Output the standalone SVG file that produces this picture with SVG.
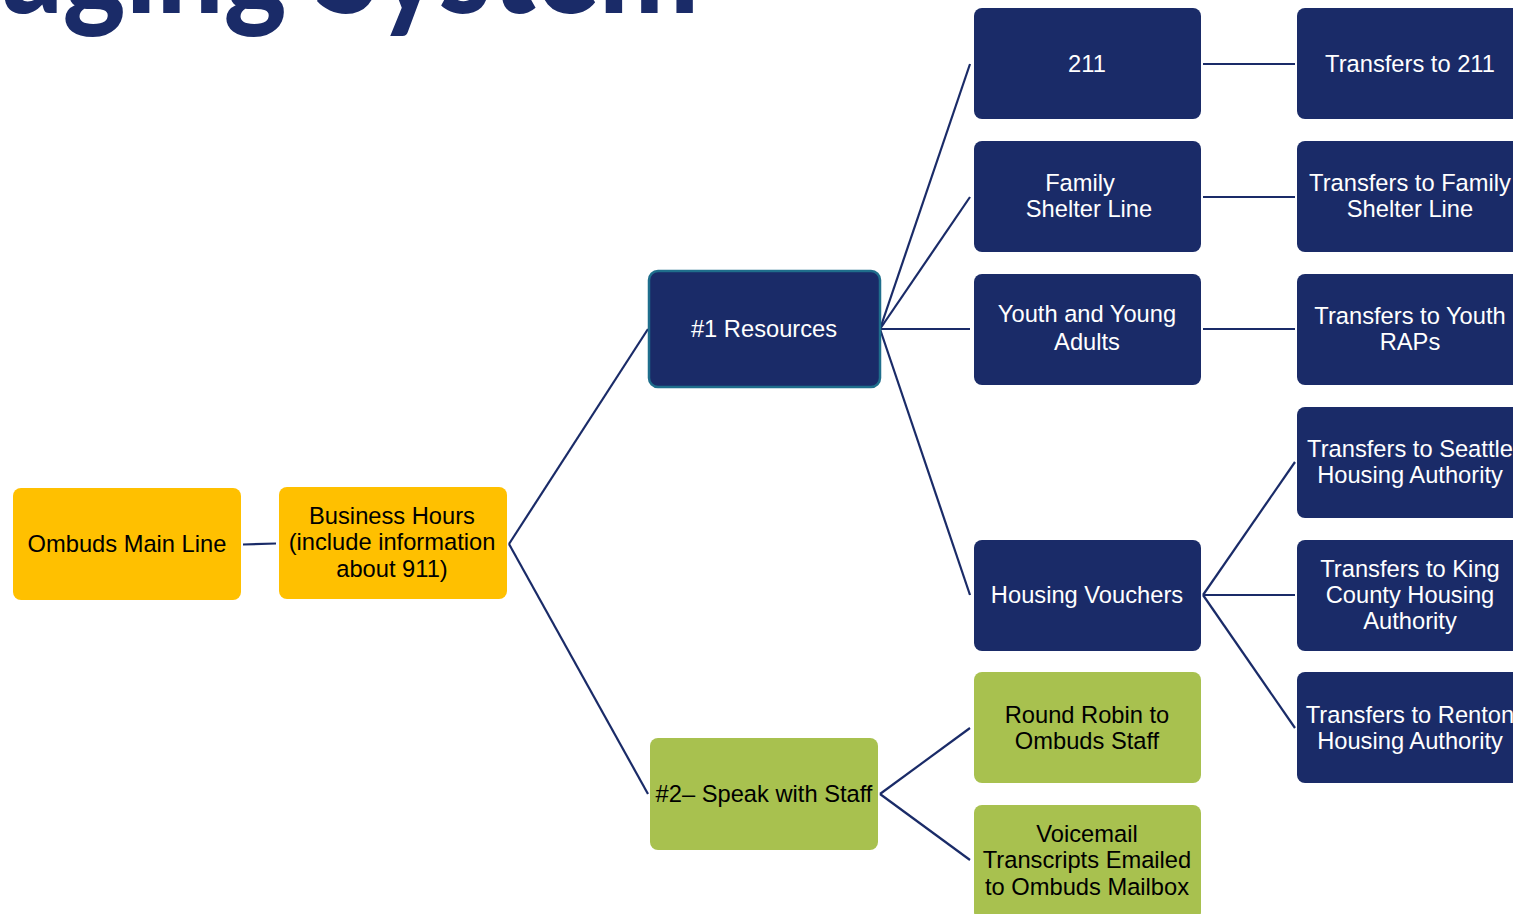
<svg xmlns="http://www.w3.org/2000/svg" width="1513" height="914" viewBox="0 0 1513 914">
<style>
.t{font-family:"Liberation Sans",Arial,sans-serif;font-size:23.7px;text-anchor:middle}
.w{fill:#ffffff}
.k{fill:#000000}
.navy{fill:#1a2b68}
.yel{fill:#ffc000}
.grn{fill:#a8c14f}
.ln{stroke:#1a2b68;stroke-width:2.2;fill:none}
.title{font-family:"Lato","Open Sans",sans-serif;font-weight:900;font-size:135px;fill:#1a2b68}
</style>
<rect width="1513" height="914" fill="#ffffff"/>
<text class="title" x="2" y="13" textLength="697" lengthAdjust="spacingAndGlyphs">aging System</text>
<g id="connectors" class="ln">
<line x1="243" y1="544.5" x2="276" y2="543.5"/>
<line x1="509" y1="544" x2="648" y2="329"/>
<line x1="509" y1="544" x2="648" y2="794"/>
<line x1="880" y1="329" x2="970" y2="64"/>
<line x1="880" y1="329" x2="970" y2="197"/>
<line x1="880" y1="329" x2="970" y2="329"/>
<line x1="880" y1="329" x2="970" y2="595"/>
<line x1="880" y1="794" x2="970" y2="728"/>
<line x1="880" y1="794" x2="970" y2="860"/>
<line x1="1203" y1="64" x2="1295" y2="64"/>
<line x1="1203" y1="197" x2="1295" y2="197"/>
<line x1="1203" y1="329" x2="1295" y2="329"/>
<line x1="1203" y1="595" x2="1295" y2="462"/>
<line x1="1203" y1="595" x2="1295" y2="595"/>
<line x1="1203" y1="595" x2="1295" y2="728"/>
</g>
<g id="n-main"><rect class="yel" x="13" y="488" width="228" height="112" rx="8"/><text class="t k" x="127" y="552">Ombuds Main Line</text></g>
<g id="n-business"><rect class="yel" x="279" y="487" width="228" height="112" rx="8"/><text class="t k" x="392" y="524">Business Hours</text><text class="t k" x="392" y="550">(include information</text><text class="t k" x="392" y="577">about 911)</text></g>
<g id="n-resources"><rect class="navy" x="649" y="271" width="231" height="116" rx="9" stroke="#1f6e8c" stroke-width="2.5"/><text class="t w" x="764" y="337">#1 Resources</text></g>
<g id="n-speak"><rect class="grn" x="650" y="738" width="228" height="112" rx="8"/><text class="t k" x="764" y="802">#2– Speak with Staff</text></g>
<g id="n-211"><rect class="navy" x="974" y="8" width="227" height="111" rx="8"/><text class="t w" x="1087" y="72">211</text></g>
<g id="n-family"><rect class="navy" x="974" y="141" width="227" height="111" rx="8"/><text class="t w" x="1080" y="191">Family</text><text class="t w" x="1089" y="217">Shelter Line</text></g>
<g id="n-youth"><rect class="navy" x="974" y="274" width="227" height="111" rx="8"/><text class="t w" x="1087" y="322">Youth and Young</text><text class="t w" x="1087" y="350">Adults</text></g>
<g id="n-vouchers"><rect class="navy" x="974" y="540" width="227" height="111" rx="8"/><text class="t w" x="1087" y="603">Housing Vouchers</text></g>
<g id="n-robin"><rect class="grn" x="974" y="672" width="227" height="111" rx="8"/><text class="t k" x="1087" y="723">Round Robin to</text><text class="t k" x="1087" y="749">Ombuds Staff</text></g>
<g id="n-voicemail"><rect class="grn" x="974" y="805" width="227" height="115" rx="8"/><text class="t k" x="1087" y="842">Voicemail</text><text class="t k" x="1087" y="868">Transcripts Emailed</text><text class="t k" x="1087" y="895">to Ombuds Mailbox</text></g>
<g id="n-t211"><rect class="navy" x="1297" y="8" width="227" height="111" rx="8"/><text class="t w" x="1410" y="72">Transfers to 211</text></g>
<g id="n-tfamily"><rect class="navy" x="1297" y="141" width="227" height="111" rx="8"/><text class="t w" x="1410" y="191">Transfers to Family</text><text class="t w" x="1410" y="217">Shelter Line</text></g>
<g id="n-tyouth"><rect class="navy" x="1297" y="274" width="227" height="111" rx="8"/><text class="t w" x="1410" y="324">Transfers to Youth</text><text class="t w" x="1410" y="350">RAPs</text></g>
<g id="n-tseattle"><rect class="navy" x="1297" y="407" width="227" height="111" rx="8"/><text class="t w" x="1410" y="457">Transfers to Seattle</text><text class="t w" x="1410" y="483">Housing Authority</text></g>
<g id="n-tking"><rect class="navy" x="1297" y="540" width="227" height="111" rx="8"/><text class="t w" x="1410" y="577">Transfers to King</text><text class="t w" x="1410" y="603">County Housing</text><text class="t w" x="1410" y="629">Authority</text></g>
<g id="n-trenton"><rect class="navy" x="1297" y="672" width="227" height="111" rx="8"/><text class="t w" x="1410" y="723">Transfers to Renton</text><text class="t w" x="1410" y="749">Housing Authority</text></g>
</svg>
